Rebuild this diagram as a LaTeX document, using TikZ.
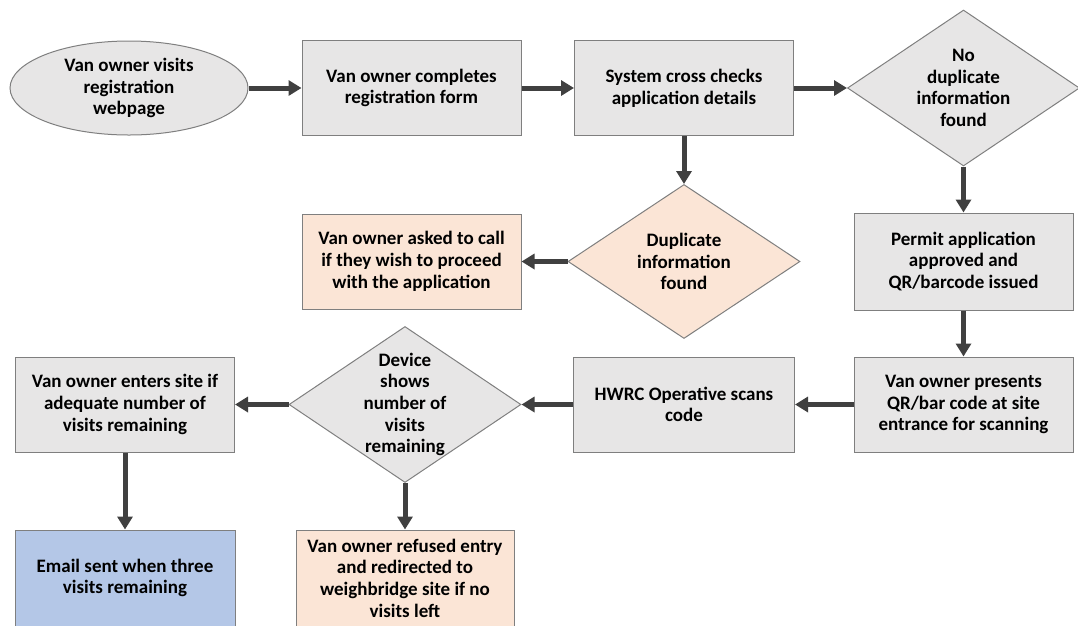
\documentclass[tikz,border=0pt]{standalone}
\usepackage{fontspec}
\setmainfont{Carlito}
\usetikzlibrary{arrows.meta,shapes.geometric,positioning}
\definecolor{boxgray}{HTML}{E7E6E6}
\definecolor{edgegray}{HTML}{7F7F7F}
\definecolor{peach}{HTML}{FBE5D6}
\definecolor{paleblue}{HTML}{B4C7E7}
\definecolor{arrowgray}{HTML}{404040}

\begin{document}
\begin{tikzpicture}
  [
  x=1pt, y=-1pt,
  font=\fontsize{19}{21.7}\selectfont\bfseries,
  flow/.style={-{Triangle[length=13pt,width=15pt]}, line width=5pt, draw=arrowgray},
  process/.style={rectangle, minimum height=95pt, minimum width=219pt, draw=edgegray, line width=1pt, fill=boxgray, align=center, inner sep=2pt},
  decision/.style={diamond, aspect=1.49, minimum height=156pt, minimum width=232pt, draw=edgegray, line width=1pt, fill=boxgray, align=center, inner sep=-12pt},
  startend/.style={ellipse, minimum height=94pt, minimum width=238pt, draw=edgegray, line width=1pt, fill=boxgray, align=center, inner sep=0pt}
  ]

\useasboundingbox (0,0) rectangle (1078,625);

% top row
\node[startend] (visit) at (129,88) {Van owner visits\\registration\\webpage};
\node[process] (complete) at (411.5,88) {Van owner completes\\registration form};
\node[process] (check) at (684,88) {System cross checks\\application details};
\node[decision] (nodup) at (963.5,88) {No\\duplicate\\information\\found};

% second row
\node[process, fill=peach] (asked) at (411.5,261.5) {Van owner asked to call\\if they wish to proceed\\with the application};
\node[decision, fill=peach, minimum height=154pt] (dup) at (684,261.5) {Duplicate\\information\\found};
\node[process, minimum height=97pt] (permit) at (963.5,261.5) {Permit application\\approved and\\QR/barcode issued};

% third row
\node[process] (enters) at (125,404.5) {Van owner enters site if\\adequate number of\\visits remaining};
\node[decision] (device) at (405,404.5) {Device\\shows\\number of\\visits\\remaining};
\node[process, minimum width=221pt] (scan) at (684,404.5) {HWRC Operative scans\\code};
\node[process] (presents) at (963.5,404.5) {Van owner presents\\QR/bar code at site\\entrance for scanning};

% bottom row, cut by the page edge
\node[process, fill=paleblue, minimum width=220pt, minimum height=96pt] (email) at (125,578) {Email sent when three\\visits remaining};
\node[process, fill=peach, minimum width=218pt, minimum height=96pt] (refused) at (405,578) {Van owner refused entry\\and redirected to\\weighbridge site if no\\visits left};

\foreach \a/\b in {visit/complete, complete/check, check/nodup, check/dup,
  dup/asked, nodup/permit, permit/presents, presents/scan, scan/device,
  device/enters, enters/email, device/refused} {
  \draw[flow] (\a) -- (\b);
}

\end{tikzpicture}
\end{document}
